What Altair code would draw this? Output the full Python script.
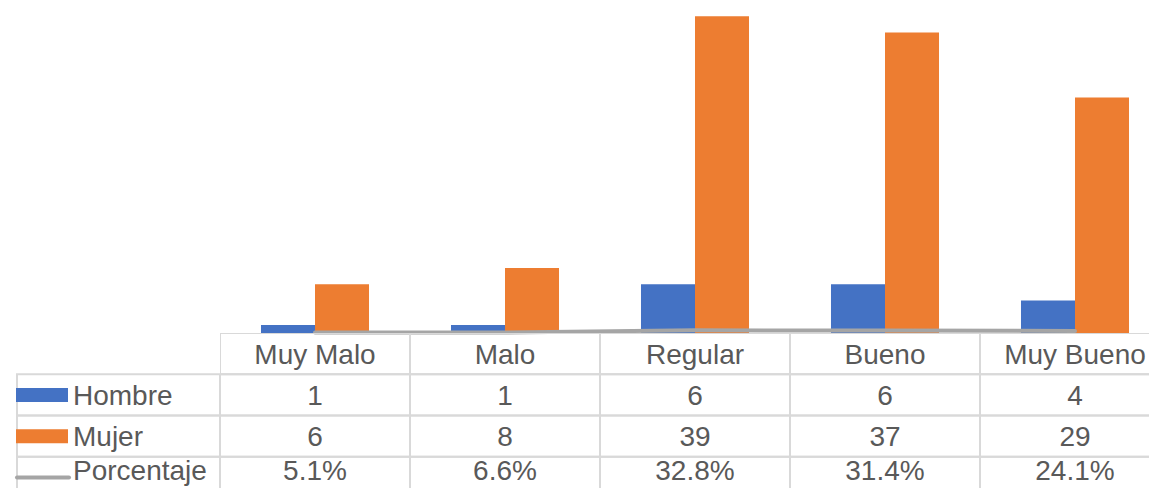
import altair as alt
import pandas as pd

# ---------------- data ----------------
cats = ["Muy Malo", "Malo", "Regular", "Bueno", "Muy Bueno"]
hombre = [1, 1, 6, 6, 4]
mujer = [6, 8, 39, 37, 29]
porcentaje = [0.051, 0.066, 0.328, 0.314, 0.241]
series = ["Hombre", "Mujer", "Porcentaje"]
colors = ["#4472C4", "#ED7D31", "#A5A5A5"]

FONT = "Liberation Sans"
TXT = "#595959"
GRID = "#D9D9D9"
W_LBL = 212          # label column
W_VIEW = 929         # visible part of the plot / table
X_RANGE = 950        # 5 columns of 190 px (last one runs past the page edge)
H_PLOT = 325
H_TAB = 155          # visible part of table
Y_RANGE = 165        # 4 rows of ~41 px (last one runs past the page edge)
FS = 28
rows = ["header"] + series

bar_df = pd.DataFrame(
    [{"cat": c, "series": "Hombre", "value": v} for c, v in zip(cats, hombre)]
    + [{"cat": c, "series": "Mujer", "value": v} for c, v in zip(cats, mujer)]
)
line_df = pd.DataFrame({"cat": cats, "pct": porcentaje})

tab_rows = []
for i, c in enumerate(cats):
    tab_rows.append({"cat": c, "row": "header", "label": c})
    tab_rows.append({"cat": c, "row": "Hombre", "label": str(hombre[i])})
    tab_rows.append({"cat": c, "row": "Mujer", "label": str(mujer[i])})
    tab_rows.append({"cat": c, "row": "Porcentaje", "label": f"{porcentaje[i]*100:.1f}%"})
tab_df = pd.DataFrame(tab_rows)
lbl_df = pd.DataFrame({"row": series})

xcat = alt.X("cat:N", sort=cats,
             scale=alt.Scale(domain=cats, range=[0, X_RANGE], paddingInner=0, paddingOuter=0), axis=None)
yrow = alt.Y("row:N",
             scale=alt.Scale(domain=rows, range=[0, Y_RANGE], paddingInner=0, paddingOuter=0), axis=None)
yval_scale = alt.Scale(domain=[0, 40], nice=False, zero=True)
is_last = alt.datum.row == "Porcentaje"
not_last = alt.datum.row != "Porcentaje"

# ---------------- chart area ----------------
bars = alt.Chart(bar_df).mark_bar().encode(
    x=xcat,
    xOffset=alt.XOffset("series:N", sort=["Hombre", "Mujer"],
                        scale=alt.Scale(domain=["Hombre", "Mujer"], paddingInner=0, paddingOuter=0.759)),
    y=alt.Y("value:Q", scale=yval_scale, axis=None),
    color=alt.Color("series:N", scale=alt.Scale(domain=series, range=colors), legend=None),
)
line = alt.Chart(line_df).mark_line(color=colors[2], strokeWidth=4, strokeCap="round").encode(
    x=xcat,
    y=alt.Y("pct:Q", scale=yval_scale, axis=None),
)
plot = alt.layer(bars, line).properties(width=W_VIEW, height=H_PLOT)

spacer = alt.Chart(pd.DataFrame({"v": [0]})).mark_point(opacity=0).encode(
    x=alt.X("v:Q", axis=None), y=alt.Y("v:Q", axis=None)
).properties(width=W_LBL, height=H_PLOT)

# ---------------- data table ----------------
cells = alt.Chart(tab_df).mark_rect(fill="transparent", stroke=GRID, strokeWidth=2, clip=True).encode(
    x=xcat, y=yrow)
txt_style = dict(font=FONT, fontSize=FS, color=TXT, baseline="middle")
cell_txt = alt.Chart(tab_df).transform_filter(not_last).mark_text(align="center", dy=2, **txt_style).encode(
    x=xcat, y=yrow, text="label:N")
cell_txt_last = alt.Chart(tab_df).transform_filter(is_last).mark_text(align="center", dy=-5, **txt_style).encode(
    x=xcat, y=yrow, text="label:N")
table = alt.layer(cells, cell_txt, cell_txt_last).properties(width=W_VIEW, height=H_TAB)

lbl_cells = alt.Chart(lbl_df).mark_rect(fill="transparent", stroke=GRID, strokeWidth=2, clip=True).encode(
    x=alt.value(9), x2=alt.value(W_LBL), y=yrow
)
sw_rect = alt.Chart(lbl_df).transform_filter(not_last).mark_rule(strokeWidth=14).encode(
    x=alt.value(8), x2=alt.value(60), y=yrow,
    color=alt.Color("row:N", scale=alt.Scale(domain=series, range=colors), legend=None),
)
sw_line = alt.Chart(lbl_df).transform_filter(is_last).mark_rule(
    strokeWidth=4, strokeCap="round", color=colors[2]
).encode(x=alt.value(9), x2=alt.value(61), y=yrow)
lbl_txt = alt.Chart(lbl_df).transform_filter(not_last).mark_text(align="left", dy=2, **txt_style).encode(
    x=alt.value(65), y=yrow, text="row:N")
lbl_txt_last = alt.Chart(lbl_df).transform_filter(is_last).mark_text(align="left", dy=-5, **txt_style).encode(
    x=alt.value(65), y=yrow, text="row:N")
labels = alt.layer(lbl_cells, sw_rect, sw_line, lbl_txt, lbl_txt_last).properties(width=W_LBL, height=H_TAB)

chart = alt.concat(
    spacer, plot, labels, table,
    columns=2, spacing=0, bounds="flush",
).configure_view(strokeWidth=0).properties(padding=0)

chart.save("out.html", embed_options={"renderer": "svg", "actions": False})
